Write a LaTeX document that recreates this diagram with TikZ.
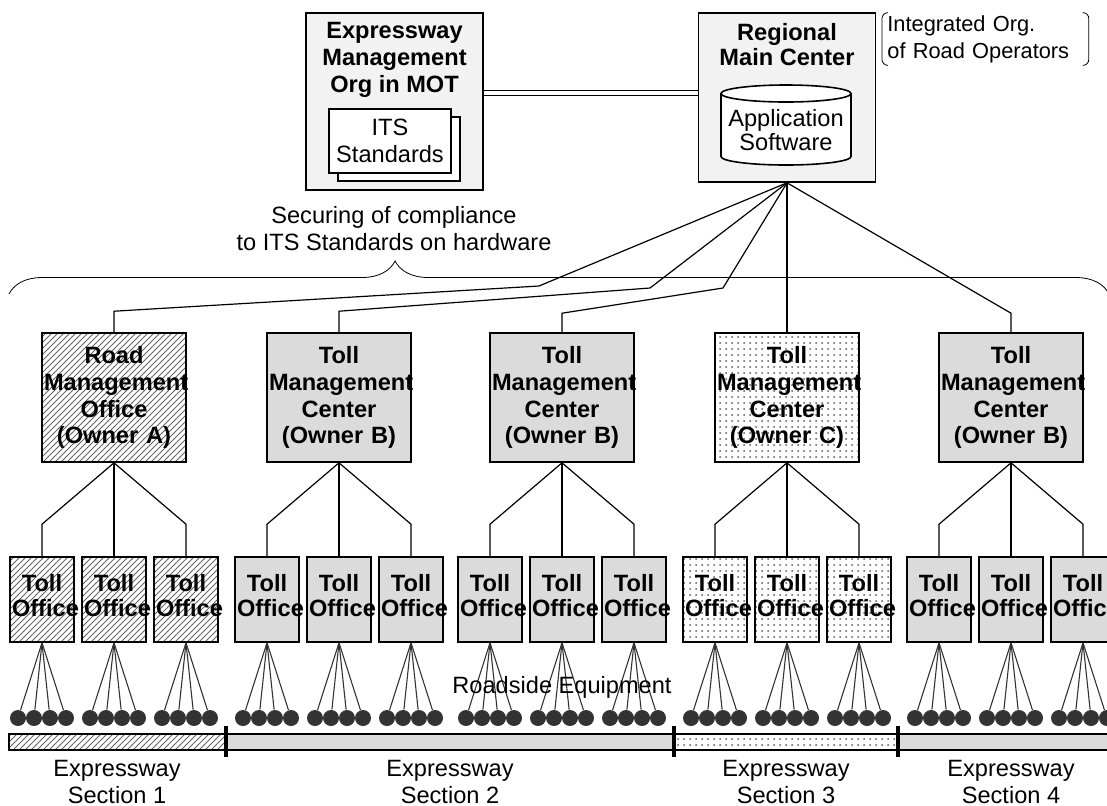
\documentclass[tikz,border=0pt]{standalone}
\usepackage{fontspec}
\setmainfont{Liberation Sans}
\usetikzlibrary{patterns, shadows, decorations.pathreplacing}

\begin{document}
\begin{tikzpicture}[x=0.5pt, y=-0.5pt,
  font=\fontsize{11.8}{13.5}\selectfont,
  box/.style={draw, thick, align=center, inner sep=0pt},
  topbox/.style={box, fill=black!5},
  ownA/.style={box, pattern=north east lines, pattern color=black!60},
  ownB/.style={box, fill=black!14},
  ownC/.style={box, pattern=dots, pattern color=black!65},
  mgmt/.style={minimum width=72pt, minimum height=64.5pt, text width=70pt, font=\fontsize{11.8}{13.4}\selectfont\bfseries},
  toll/.style={minimum width=32pt, minimum height=42.5pt, text width=30pt, text depth=16.5pt, font=\fontsize{11.8}{12.5}\selectfont\bfseries},
  link/.style={semithick},
  wire/.style={line width=0.55pt, black!80},
  equip/.style={circle, fill=black!80, inner sep=0pt, minimum size=8pt}]
\useasboundingbox (0,0) rectangle (1107,805);

% top level
\node[topbox, minimum width=88.5pt, minimum height=88.5pt] (emo) at (394.5,101.5) {};
\node[align=center, font=\fontsize{11.8}{13.5}\selectfont\bfseries] (emot) at (394.5,60) {Expressway\\Management\\Org in MOT};
\node[box, fill=white, minimum width=61pt, minimum height=32pt,
  copy shadow={shadow xshift=4.5pt, shadow yshift=-4pt}] (its) at (390,141) {ITS\\Standards};

\node[topbox, minimum width=88.5pt, minimum height=84.5pt] (rmc) at (787,97.5) {};
\node[align=center, font=\fontsize{11.8}{12.5}\selectfont\bfseries] (rmct) at (787,44.5) {Regional\\Main Center};
\draw[thick, fill=white] (721,93.5) -- (721,156.5) arc[start angle=180, end angle=360, x radius=32.5pt, y radius=4.25pt] -- (851,93.5);
\draw[thick, fill=white] (786,93.5) ellipse [x radius=32.5pt, y radius=4.25pt];
\node[align=center, font=\fontsize{11.8}{12}\selectfont] (app) at (786,130) {Application\\Software};

\node[align=left, text width=98pt, inner xsep=2.5pt, inner ysep=0pt, minimum height=26pt, anchor=west,
  font=\fontsize{10.9}{13.5}\selectfont] (ann) at (882,39) {Integrated Org.\\of Road Operators};
\draw[rounded corners=3pt] ([xshift=3pt]ann.north west) -- (ann.north west) -- (ann.south west) -- ([xshift=3pt]ann.south west);
\draw[rounded corners=3pt] ([xshift=-3pt]ann.north east) -- (ann.north east) -- (ann.south east) -- ([xshift=-3pt]ann.south east);

\coordinate (dl) at (0,93);
\draw[double, double distance=2pt, line width=0.6pt] (emo.east |- dl) -- (rmc.west |- dl);

\node[align=center] (note) at (394,228.5) {Securing of compliance\\to ITS Standards on hardware};
\draw[decorate, decoration={brace, amplitude=16.5pt, aspect=0.351}] (9,294) -- (1109,294);

% management offices, toll offices, roadside equipment
\foreach \g/\cx/\kind/\unit/\own/\st in {1/114/Road/Office/A/ownA, 2/339/Toll/Center/B/ownB,
    3/562/Toll/Center/B/ownB, 4/787/Toll/Center/C/ownC, 5/1011/Toll/Center/B/ownB}{
  \node[\st, mgmt] (m\g) at (\cx,397.5) {\kind\\Management\\\unit\\(Owner \own)};
  \foreach \o/\dx in {1/-72, 2/0, 3/72}{
    \node[\st, toll] (t\g\o) at (\cx+\dx,599.5) {Toll\\Office};
    \draw[link] (m\g.south) -- ([yshift=16pt]t\g\o.north) -- (t\g\o.north);
    \foreach \d/\ddx in {1/-24, 2/-8, 3/8, 4/24}{
      \node[equip] (e\g\o\d) at (\cx+\dx+\ddx,718) {};
      \draw[wire] (t\g\o.south) -- (e\g\o\d);
    }
  }
}

% links to the regional center
\draw[link] (m1.north) -- ++(0,-21) -- (539,286) -- (rmc.south);
\draw[link] (m2.north) -- ++(0,-21) -- (650,288) -- (rmc.south);
\draw[link] (m3.north) -- ++(0,-19) -- (723,288) -- (rmc.south);
\draw[link] (m4.north) -- (rmc.south);
\draw[link] (m5.north) -- ++(0,-19) -- (rmc.south);

\node (rse) at (562,687) {Roadside Equipment};

% expressway sections
\draw[thick, pattern=north east lines, pattern color=black!60] (9,734) rectangle (226,750);
\draw[thick, fill=black!14] (226,734) rectangle (674,750);
\draw[thick, pattern=dots, pattern color=black!65] (674,734) rectangle (898,750);
\draw[thick, fill=black!14] (898,734) rectangle (1120,750);
\foreach \sx in {226,674,898}
\draw[line width=2pt] (\sx,726) -- (\sx,757);
\foreach \s/\lx in {1/117,2/450,3/786,4/1011}
\node[align=center] (sec\s) at (\lx,781.5) {Expressway\\Section \s};
\end{tikzpicture}
\end{document}
